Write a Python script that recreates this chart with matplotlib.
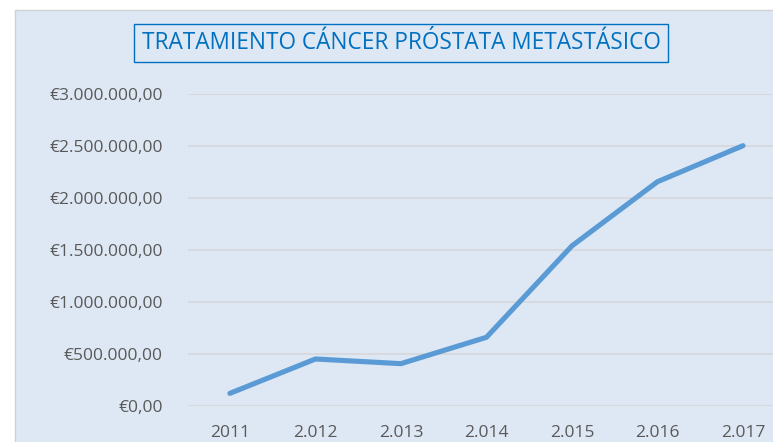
import matplotlib
matplotlib.use("Agg")
import matplotlib.pyplot as plt
from matplotlib.patches import Rectangle
from matplotlib.ticker import FuncFormatter

# =============================================================================
# DATOS
# =============================================================================

years = ["2011", "2.012", "2.013", "2.014", "2.015", "2.016", "2.017"]
costs = [119000, 450000, 405000, 659000, 1540000, 2158000, 2505000]
y_ticks = [0, 500000, 1000000, 1500000, 2000000, 2500000, 3000000]

TITLE = "TRATAMIENTO CÁNCER PRÓSTATA METASTÁSICO"
BG = "#dee8f4"
LINE_COLOR = "#5b9bd5"
TITLE_COLOR = "#0070c0"
TEXT_COLOR = "#595959"
GRID_COLOR = "#d5d5d5"
FONT = ["Open Sans", "DejaVu Sans"]


def euro(v, pos=None):
    """Formato moneda estilo español: €1.500.000,00"""
    s = f"{v:,.2f}"
    s = s.replace(",", "X").replace(".", ",").replace("X", ".")
    return "€" + s


plt.rcParams['font.family'] = FONT

W, H = 773, 442
fig = plt.figure(figsize=(W / 100, H / 100), dpi=100, facecolor="white")

# fondo del area del grafico (detras de los ejes)
fig.patches.append(Rectangle((15 / W, -0.01), 1.0, 1 - 10 / H + 0.01,
                             transform=fig.transFigure, facecolor=BG,
                             edgecolor="#d0d0d0", linewidth=1.0, zorder=-10))

ax = fig.add_axes([188 / W, 1 - 405.7 / H, 1 - 188 / W, (405.7 - 94.3) / H])
ax.set_facecolor("none")

x = list(range(len(years)))
ax.plot(x, costs, color=LINE_COLOR, linewidth=3.7, solid_capstyle="round",
        solid_joinstyle="round", zorder=3)

ax.set_ylim(0, 3000000)
ax.set_xlim(-0.49, (W - 230) / 85.5)
ax.set_yticks(y_ticks)
ax.yaxis.set_major_formatter(FuncFormatter(euro))
ax.set_xticks(x)
ax.set_xticklabels(years)

ax.grid(axis="y", color=GRID_COLOR, linewidth=1.1)
ax.set_axisbelow(True)
for s in ax.spines.values():
    s.set_visible(False)
ax.tick_params(axis="both", length=0, colors=TEXT_COLOR, labelsize=12.5)
ax.tick_params(axis="y", pad=18)
ax.tick_params(axis="x", pad=14)

fig.text(401 / W, 1 - 43 / H, TITLE, ha="center", va="center",
         color=TITLE_COLOR, fontsize=16.3,
         bbox=dict(boxstyle="square,pad=0.33", facecolor=BG,
                   edgecolor=TITLE_COLOR, linewidth=1.0))

fig.savefig("out.png", dpi=100, facecolor="white")
